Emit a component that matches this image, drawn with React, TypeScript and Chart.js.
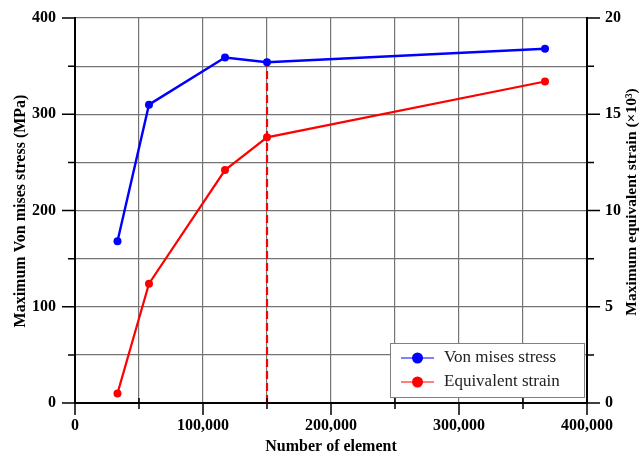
import { useEffect, useRef } from 'react';
import { Chart, registerables } from 'chart.js';

Chart.register(...registerables);

// Mesh convergence study: number of elements vs. peak results
const elementCounts = [33200, 57800, 117200, 150000, 367200];
const vonMisesStress = [168, 310, 359, 354, 368]; // MPa
const equivalentStrain = [0.5, 6.2, 12.1, 13.8, 16.7]; // x10^3

// Selected mesh (marked with a dashed line up to its stress point)
const selectedElements = 150000;
const selectedStress = 354;

// Labelled ticks
const xLabelTicks = [0, 100000, 200000, 300000, 400000];
const stressLabelTicks = [0, 100, 200, 300, 400];
const strainLabelTicks = [0, 5, 10, 15, 20];

const seriesNames = ['Von mises stress', 'Equivalent strain'];
const seriesColors = ['#0000ff', '#ff0000'];

const SERIF = "'Liberation Serif', 'Times New Roman', serif";
const tickFont = { family: SERIF, size: 16, weight: 'bold' as const };

const decorations = {
  id: 'decorations',
  afterDraw(chart: any) {
    const ctx = chart.ctx as CanvasRenderingContext2D;
    const { left, right, bottom } = chart.chartArea;
    const x = chart.scales.x;
    const y = chart.scales.y;
    const y1 = chart.scales.y1;
    ctx.save();

    // tick marks
    ctx.strokeStyle = '#000';
    ctx.lineWidth = 1.5;
    ctx.beginPath();
    for (let v = 0; v <= 400; v += 50) {
      const py = y.getPixelForValue(v);
      const len = stressLabelTicks.includes(v) ? 13 : 7;
      ctx.moveTo(left - len, py);
      ctx.lineTo(left, py);
    }
    for (let v = 0; v <= 20; v += 2.5) {
      const py = y1.getPixelForValue(v);
      const len = strainLabelTicks.includes(v) ? 13 : 7;
      ctx.moveTo(right, py);
      ctx.lineTo(right + len, py);
    }
    for (let v = 0; v <= 400000; v += 50000) {
      const px = x.getPixelForValue(v);
      if (xLabelTicks.includes(v)) {
        ctx.moveTo(px, bottom);
        ctx.lineTo(px, bottom + 12);
      } else {
        ctx.moveTo(px, bottom - 5);
        ctx.lineTo(px, bottom + 6);
      }
    }
    ctx.stroke();

    // axis titles
    ctx.fillStyle = '#000';
    ctx.textAlign = 'center';
    ctx.textBaseline = 'middle';
    ctx.font = `bold 16px ${SERIF}`;
    ctx.fillText('Number of element', (left + right) / 2, 447);

    ctx.save();
    ctx.translate(21, 211);
    ctx.rotate(-Math.PI / 2);
    ctx.fillText('Maximum Von mises stress (MPa)', 0, 0);
    ctx.restore();

    ctx.save();
    ctx.translate(632, 202);
    ctx.rotate(-Math.PI / 2);
    ctx.font = `bold 15.5px ${SERIF}`;
    ctx.fillText('Maximum equivalent strain (×10³)', 0, 0);
    ctx.restore();

    // legend
    const bx = 390, by = 343, bw = right - 390 - 3, bh = 54;
    ctx.fillStyle = '#fff';
    ctx.fillRect(bx, by, bw, bh);
    ctx.strokeStyle = '#808080';
    ctx.lineWidth = 1;
    ctx.strokeRect(bx + 0.5, by + 0.5, bw, bh);
    const rows = [358, 382];
    rows.forEach((ry, i) => {
      ctx.strokeStyle = seriesColors[i];
      ctx.lineWidth = 1.2;
      ctx.beginPath();
      ctx.moveTo(401, ry);
      ctx.lineTo(434, ry);
      ctx.stroke();
      ctx.fillStyle = seriesColors[i];
      ctx.beginPath();
      ctx.arc(417.5, ry, 5.5, 0, Math.PI * 2);
      ctx.fill();
      ctx.fillStyle = '#222';
      ctx.textAlign = 'left';
      ctx.font = `17px ${SERIF}`;
      ctx.fillText(seriesNames[i], 444, ry);
    });

    ctx.restore();
  },
};

export default function App() {
  const canvasRef = useRef<HTMLCanvasElement | null>(null);

  useEffect(() => {
    if (!canvasRef.current) return;
    const toPoints = (ys: number[]) => elementCounts.map((x, i) => ({ x, y: ys[i] }));

    const fitVertical = (width: number) => (s: any) => {
      s.width = width;
      s.paddingTop = 0;
      s.paddingBottom = 0;
    };

    const gridStyle = { color: '#747474', lineWidth: 1.2, drawTicks: false };

    const chart = new Chart(canvasRef.current, {
      type: 'scatter',
      data: {
        datasets: [
          {
            label: seriesNames[0],
            data: toPoints(vonMisesStress),
            yAxisID: 'y',
            showLine: true,
            borderColor: seriesColors[0],
            backgroundColor: seriesColors[0],
            borderWidth: 2.4,
            pointRadius: 4,
            pointBorderWidth: 0,
            order: 1,
          },
          {
            label: seriesNames[1],
            data: toPoints(equivalentStrain),
            yAxisID: 'y1',
            showLine: true,
            borderColor: seriesColors[1],
            backgroundColor: seriesColors[1],
            borderWidth: 2.2,
            pointRadius: 4,
            pointBorderWidth: 0,
            order: 2,
          },
          {
            label: 'selected mesh',
            data: [
              { x: selectedElements, y: 0 },
              { x: selectedElements, y: selectedStress },
            ],
            yAxisID: 'y',
            showLine: true,
            borderColor: seriesColors[1],
            borderWidth: 2.2,
            borderDash: [8, 4],
            pointRadius: 0,
            order: 3,
          },
        ],
      },
      options: {
        responsive: false,
        animation: false,
        layout: { padding: { top: 18, left: 0, right: 0, bottom: 0 } },
        plugins: {
          legend: { display: false },
          tooltip: { enabled: false },
        },
        scales: {
          x: {
            type: 'linear',
            min: 0,
            max: 400000,
            afterFit: (s: any) => {
              s.height = 56;
              s.paddingLeft = 0;
              s.paddingRight = 0;
            },
            ticks: {
              stepSize: 50000,
              autoSkip: false,
              maxRotation: 0,
              padding: 13,
              color: '#000',
              font: tickFont,
              callback: (v: any) => (xLabelTicks.includes(v) ? Number(v).toLocaleString('en-US') : ''),
            },
            grid: gridStyle,
            border: { color: '#000', width: 2 },
          },
          y: {
            position: 'left',
            min: 0,
            max: 400,
            afterFit: fitVertical(75),
            ticks: {
              stepSize: 50,
              autoSkip: false,
              padding: 19,
              color: '#000',
              font: tickFont,
              callback: (v: any) => (stressLabelTicks.includes(v) ? String(v) : ''),
            },
            grid: gridStyle,
            border: { color: '#000', width: 2 },
          },
          y1: {
            position: 'right',
            min: 0,
            max: 20,
            afterFit: fitVertical(56),
            ticks: {
              stepSize: 2.5,
              autoSkip: false,
              padding: 18,
              color: '#000',
              font: tickFont,
              callback: (v: any) => (strainLabelTicks.includes(v) ? String(v) : ''),
            },
            grid: { drawOnChartArea: false, drawTicks: false },
            border: { color: '#000', width: 2 },
          },
        },
      },
      plugins: [decorations],
    });

    return () => chart.destroy();
  }, []);

  return (
    <canvas
      ref={canvasRef}
      width={643}
      height={459}
      style={{ position: 'absolute', left: 0, top: 0, display: 'block', background: '#fff' }}
    />
  );
}
